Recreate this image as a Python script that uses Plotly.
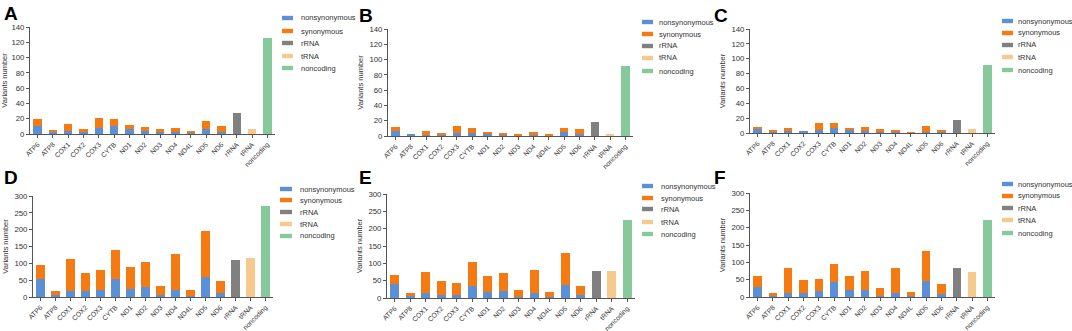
import plotly.graph_objects as go

W, H = 1072, 331

genes = ["ATP6", "ATP8", "COX1", "COX2", "COX3", "CYTB", "ND1", "ND2", "ND3",
         "ND4", "ND4L", "ND5", "ND6"]
categories = genes + ["rRNA", "tRNA", "noncoding"]
series_names = ["nonsynonymous", "synonymous", "rRNA", "tRNA", "noncoding"]
colors = ["#5b8fd6", "#f57a12", "#808080", "#f6c98c", "#86c99b"]

panel_labels = ["A", "B", "C", "D", "E", "F"]

# nonsynonymous / synonymous counts per protein-coding gene
nonsyn_A = [11, 3, 4, 2, 8, 11, 7, 4, 2, 3, 1, 7, 3]
syn_A = [8, 1, 9, 4, 13, 9, 5, 5, 5, 5, 3, 10, 8]
nonsyn_B = [6, 2, 1, 1, 4, 4, 3, 2, 1, 1, 1, 5, 2]
syn_B = [6, 0, 6, 3, 9, 6, 2, 2, 2, 4, 2, 5, 7]
nonsyn_C = [6, 2, 3, 2, 4, 7, 4, 3, 2, 2, 0, 2, 2]
syn_C = [2, 1, 4, 0, 9, 6, 3, 5, 3, 2, 1, 8, 2]
nonsyn_D = [54, 7, 19, 18, 21, 53, 24, 29, 5, 20, 2, 60, 13]
syn_D = [41, 12, 95, 54, 59, 88, 64, 75, 27, 109, 18, 135, 36]
nonsyn_E = [39, 5, 14, 10, 9, 35, 17, 21, 4, 15, 2, 38, 10]
syn_E = [26, 9, 61, 40, 35, 68, 47, 51, 18, 66, 14, 92, 24]
nonsyn_F = [28, 3, 12, 12, 16, 43, 21, 19, 2, 11, 2, 45, 9]
syn_F = [34, 9, 71, 36, 37, 51, 40, 56, 23, 73, 11, 87, 29]

# rRNA, tRNA, noncoding counts
rna_A = [28, 7, 125]
rna_B = [18, 3, 92]
rna_C = [18, 5, 91]
rna_D = [111, 115, 270]
rna_E = [77, 77, 224]
rna_F = [85, 72, 221]

y_max = [140, 140, 140, 300, 300, 300]
y_dtick = [20, 20, 20, 50, 50, 50]

panels = [
    (nonsyn_A, syn_A, rna_A), (nonsyn_B, syn_B, rna_B), (nonsyn_C, syn_C, rna_C),
    (nonsyn_D, syn_D, rna_D), (nonsyn_E, syn_E, rna_E), (nonsyn_F, syn_F, rna_F),
]

# plot areas in pixels: (x_left, x_right, y_top, y_bottom)
boxes = [
    (30, 275, 27, 134), (388, 633, 29, 136), (750, 995, 29, 133),
    (33, 273, 196, 297), (387, 635, 194, 298), (750, 995, 193, 297),
]
# legend: (swatch x0, swatch x1, text x, [row centres])
legends = [
    (282, 293, 299, [18, 31, 43, 56, 68]),
    (642, 653, 657, [22, 34, 46, 58, 71]),
    (1002, 1013, 1016, [21, 33, 45, 57, 70]),
    (280, 292, 298, [189, 200, 212, 224, 236]),
    (642, 653, 659, [186, 198, 209, 222, 234]),
    (1002, 1013, 1016, [184, 196, 208, 220, 233]),
]
letter_pos = [(2, 1), (357, 3), (712, 3), (2, 165), (357, 165), (712, 165)]

FONT = "Liberation Sans, Arial, sans-serif"
fig = go.Figure()
shapes, annotations = [], []


def px(x):
    return x / W


def py(y):
    return 1 - y / H


for i, (ns, sy, rna) in enumerate(panels):
    k = "" if i == 0 else str(i + 1)
    xa, ya = "x" + k, "y" + k
    bw = 0.55
    fig.add_trace(go.Bar(x=genes, y=ns, name=series_names[0], marker_color=colors[0],
                         marker_line_width=0, width=bw, xaxis=xa, yaxis=ya, showlegend=False))
    fig.add_trace(go.Bar(x=genes, y=sy, name=series_names[1], marker_color=colors[1],
                         marker_line_width=0, width=bw, xaxis=xa, yaxis=ya, showlegend=False))
    for j in range(3):
        fig.add_trace(go.Bar(x=[categories[13 + j]], y=[rna[j]], name=series_names[2 + j],
                             marker_color=colors[2 + j], marker_line_width=0, width=bw,
                             xaxis=xa, yaxis=ya, showlegend=False))
    x0, x1, y0, y1 = boxes[i]
    axis_common = dict(showline=True, linecolor="#555555", linewidth=1, ticks="outside",
                       ticklen=3, tickcolor="#555555", tickwidth=1, showgrid=False,
                       zeroline=False, automargin=False)
    fig.update_layout(**{
        "xaxis" + k: dict(domain=[px(x0), px(x1)], anchor=ya, type="category",
                          categoryorder="array", categoryarray=categories,
                          tickangle=-45, range=[-0.5, 15.5],
                          tickfont=dict(size=6.8, color="#333333", family=FONT), **axis_common),
        "yaxis" + k: dict(domain=[py(y1), py(y0)], anchor=xa, range=[0, y_max[i]],
                          dtick=y_dtick[i],
                          tickfont=dict(size=7.8, color="#333333", family=FONT),
                          title=dict(text="Variants number", font=dict(size=7.5, color="#333333", family=FONT),
                                     standoff=4),
                          **axis_common),
    })
    sx0, sx1, tx, rows = legends[i]
    for j, rc in enumerate(rows):
        shapes.append(dict(type="rect", xref="paper", yref="paper",
                           x0=px(sx0), x1=px(sx1), y0=py(rc + 2.2), y1=py(rc - 2.2),
                           fillcolor=colors[j], line_width=0))
        annotations.append(dict(text=series_names[j], xref="paper", yref="paper",
                                x=px(tx), y=py(rc), xanchor="left", yanchor="middle",
                                showarrow=False, font=dict(size=7.5, color="#333333", family=FONT)))
    lx, ly = letter_pos[i]
    annotations.append(dict(text="<b>%s</b>" % panel_labels[i], xref="paper", yref="paper",
                            x=px(lx), y=py(ly), xanchor="left", yanchor="top", showarrow=False,
                            font=dict(size=19, color="#000000", family=FONT)))

fig.update_layout(width=W, height=H, margin=dict(l=0, r=0, t=0, b=0),
                  barmode="stack", plot_bgcolor="white", paper_bgcolor="white",
                  shapes=shapes, annotations=annotations, showlegend=False,
                  font=dict(family=FONT))
fig.write_html("out.html", config={"displayModeBar": False},
               post_script="document.body.style.margin='0';document.body.style.overflow='hidden';")
